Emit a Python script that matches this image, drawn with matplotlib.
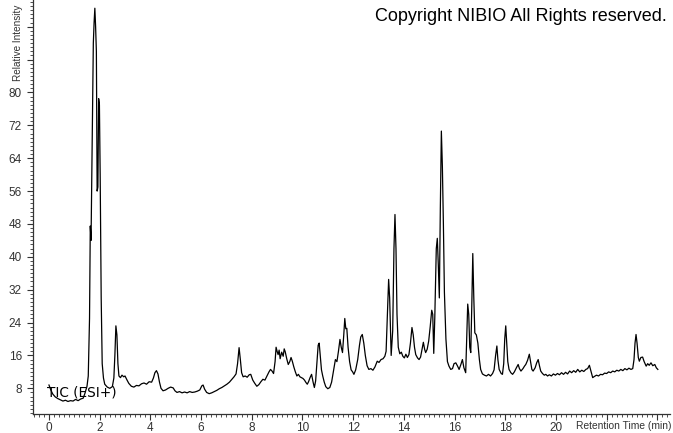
import numpy as np
import matplotlib
matplotlib.use("Agg")
import matplotlib.pyplot as plt
from matplotlib.ticker import MultipleLocator

# TIC chromatogram, retention time (min) vs relative intensity
rt = [0.00, 0.08, 0.15, 0.25, 0.35, 0.45, 0.55, 0.65, 0.75, 0.85, 0.95, 1.05, 1.15, 1.25, 1.35, 1.42,
      1.50, 1.55, 1.60, 1.63, 1.66, 1.70, 1.75, 1.78, 1.81, 1.84, 1.87, 1.90, 1.93, 1.96, 1.99, 2.02,
      2.06, 2.10, 2.15, 2.20, 2.30, 2.40, 2.50, 2.56, 2.60, 2.64, 2.68, 2.72, 2.76, 2.82, 2.88, 2.95,
      3.00, 3.08, 3.15, 3.25, 3.35, 3.45, 3.55, 3.65, 3.75, 3.85, 3.95, 4.05, 4.12, 4.18, 4.24, 4.30,
      4.36, 4.42, 4.50, 4.60, 4.70, 4.80, 4.90, 4.97, 5.05, 5.15, 5.25, 5.35, 5.45, 5.55, 5.65, 5.75,
      5.85, 5.95, 6.03, 6.08, 6.14, 6.22, 6.32, 6.42, 6.52, 6.62, 6.72, 6.82, 6.92, 7.02, 7.12, 7.22,
      7.30, 7.38, 7.44, 7.50, 7.55, 7.60, 7.66, 7.74, 7.82, 7.90, 7.96, 8.04, 8.12, 8.20, 8.28, 8.36,
      8.44, 8.52, 8.60, 8.68, 8.74, 8.80, 8.86, 8.92, 8.96, 9.00, 9.04, 9.08, 9.12, 9.18, 9.24, 9.28,
      9.32, 9.38, 9.44, 9.50, 9.55, 9.60, 9.66, 9.72, 9.78, 9.84, 9.90, 9.96, 10.02, 10.08, 10.14, 10.19,
      10.24, 10.30, 10.36, 10.42, 10.47, 10.52, 10.57, 10.62, 10.66, 10.70, 10.75, 10.80, 10.86, 10.92, 11.00, 11.08,
      11.15, 11.22, 11.30, 11.36, 11.42, 11.48, 11.53, 11.58, 11.63, 11.67, 11.71, 11.75, 11.80, 11.86, 11.92, 11.98,
      12.03, 12.10, 12.18, 12.25, 12.30, 12.36, 12.42, 12.48, 12.55, 12.62, 12.70, 12.78, 12.86, 12.95, 13.02, 13.10,
      13.18, 13.25, 13.30, 13.35, 13.40, 13.44, 13.50, 13.56, 13.61, 13.65, 13.69, 13.73, 13.78, 13.84, 13.90, 13.96,
      14.02, 14.08, 14.14, 14.20, 14.26, 14.32, 14.37, 14.42, 14.47, 14.54, 14.60, 14.66, 14.72, 14.77, 14.82, 14.86,
      14.92, 14.98, 15.04, 15.10, 15.14, 15.18, 15.22, 15.28, 15.32, 15.36, 15.40, 15.44, 15.48, 15.52, 15.56, 15.60,
      15.66, 15.72, 15.78, 15.85, 15.92, 15.98, 16.05, 16.12, 16.18, 16.25, 16.31, 16.37, 16.44, 16.48, 16.52, 16.56,
      16.60, 16.64, 16.68, 16.72, 16.76, 16.80, 16.86, 16.92, 16.98, 17.03, 17.10, 17.18, 17.26, 17.34, 17.42, 17.50,
      17.56, 17.62, 17.67, 17.71, 17.76, 17.84, 17.89, 17.94, 17.98, 18.02, 18.06, 18.10, 18.15, 18.22, 18.29, 18.36,
      18.44, 18.51, 18.56, 18.62, 18.70, 18.76, 18.81, 18.88, 18.95, 19.00, 19.05, 19.10, 19.18, 19.24, 19.30, 19.35,
      19.40, 19.47, 19.54, 19.60, 19.67, 19.74, 19.82, 19.90, 19.98, 20.06, 20.14, 20.22, 20.30, 20.38, 20.46, 20.54,
      20.62, 20.70, 20.78, 20.86, 20.94, 21.02, 21.10, 21.18, 21.25, 21.32, 21.38, 21.45, 21.52, 21.60, 21.68, 21.76,
      21.84, 21.92, 22.00, 22.08, 22.16, 22.24, 22.32, 22.40, 22.48, 22.56, 22.64, 22.72, 22.80, 22.88, 22.96, 23.03,
      23.08, 23.12, 23.16, 23.20, 23.25, 23.29, 23.35, 23.42, 23.48, 23.56, 23.62, 23.68, 23.75, 23.82, 23.90, 23.96,
      24.02]

intensity = [8.8, 7.5, 6.6, 5.9, 5.5, 5.2, 4.9, 5.1, 4.8, 5.0, 4.9, 5.3, 5.0, 5.4, 5.6, 6.8,
             8.5, 11.0, 25.0, 47.5, 44.0, 65.0, 92.0, 97.0, 100.5, 96.0, 90.0, 56.0, 57.0, 78.5, 77.0, 60.0,
             30.0, 14.0, 10.5, 9.0, 8.3, 8.0, 8.4, 10.5, 16.0, 23.2, 21.0, 14.0, 11.0, 10.6, 11.2, 10.8,
             11.0, 10.0, 9.2, 8.5, 8.3, 8.7, 8.6, 9.1, 9.3, 9.0, 9.6, 9.5, 10.5, 11.8, 12.3, 11.5,
             9.5, 8.0, 7.4, 7.6, 8.0, 8.3, 8.1, 7.4, 7.0, 7.2, 6.9, 7.1, 6.9, 7.2, 7.0, 7.1,
             7.3, 7.6, 8.6, 8.8, 7.8, 7.0, 6.7, 6.9, 7.2, 7.5, 7.9, 8.2, 8.6, 9.0, 9.5, 10.2,
             10.8, 11.5, 14.0, 17.9, 15.0, 11.8, 10.8, 11.0, 10.7, 11.3, 11.4, 10.0, 9.2, 8.5, 8.9, 9.6,
             10.2, 10.0, 11.0, 12.0, 12.6, 12.2, 11.6, 14.5, 18.0, 17.0, 16.2, 17.3, 15.2, 16.8, 15.8, 17.6,
             16.9, 15.2, 13.8, 14.5, 15.5, 14.6, 13.2, 12.0, 11.0, 11.4, 10.8, 10.6, 10.4, 10.0, 9.4, 9.0,
             9.6, 10.6, 11.4, 9.5, 8.2, 9.8, 14.0, 18.5, 19.0, 16.0, 12.5, 11.0, 9.5, 8.4, 7.9, 8.2,
             9.5, 12.0, 15.0, 14.5, 17.0, 19.9, 18.0, 16.7, 21.0, 25.0, 22.5, 22.6, 18.0, 14.5, 12.5, 12.0,
             11.4, 12.5, 15.0, 18.5, 20.5, 21.1, 19.0, 16.0, 13.5, 12.6, 12.8, 12.4, 13.2, 14.6, 14.3, 15.0,
             15.2, 15.8, 17.0, 26.0, 34.5, 30.0, 16.0, 22.0, 42.0, 50.3, 42.0, 26.0, 18.0, 16.4, 16.8, 15.8,
             15.4, 16.3, 15.5, 16.2, 19.0, 22.8, 21.0, 18.0, 16.2, 15.4, 15.0, 15.6, 17.5, 19.2, 17.5, 16.7,
             17.5, 19.5, 23.0, 27.0, 26.0, 16.5, 25.0, 42.0, 44.5, 38.0, 30.0, 52.0, 70.6, 62.0, 48.0, 31.4,
             20.0, 14.5, 13.4, 12.6, 12.8, 14.0, 14.2, 13.4, 12.6, 13.8, 15.0, 13.0, 11.8, 20.0, 28.5, 26.0,
             18.0, 16.7, 28.0, 40.8, 30.0, 21.5, 21.0, 19.0, 15.0, 12.6, 11.5, 11.2, 11.0, 11.4, 11.0, 11.6,
             12.5, 16.0, 18.3, 15.0, 12.6, 11.6, 11.4, 14.0, 20.0, 23.2, 19.0, 14.5, 12.6, 11.8, 11.4, 12.0,
             13.0, 13.8, 12.8, 12.2, 12.8, 13.4, 13.8, 14.8, 16.3, 14.5, 12.6, 12.2, 13.0, 14.2, 15.0, 13.5,
             12.2, 11.6, 11.2, 11.4, 11.0, 11.3, 11.0, 11.5, 11.2, 11.6, 11.3, 11.8, 11.4, 11.9, 11.5, 12.2,
             11.8, 12.3, 11.9, 12.6, 12.0, 12.4, 12.1, 12.6, 12.8, 13.6, 12.2, 10.6, 10.9, 11.2, 11.0, 11.4,
             11.3, 11.7, 11.6, 12.0, 11.8, 12.2, 12.0, 12.4, 12.2, 12.6, 12.3, 12.8, 12.5, 12.9, 12.6, 12.8,
             15.0, 19.0, 21.1, 19.0, 15.5, 14.6, 15.5, 15.6, 14.5, 13.4, 14.0, 13.6, 14.2, 13.5, 13.8, 13.0,
             12.6]

x_labels = ["0", "2", "4", "6", "8", "10", "12", "14", "16", "18", "20", "", ""]
y_labels = ["8", "16", "24", "32", "40", "48", "56", "64", "72", "80", "", ""]

tick_font = "Liberation Sans"
grey = "#333333"

fig = plt.figure(figsize=(6.73, 4.33), dpi=100)
ax = fig.add_axes([33 / 673, 19 / 433, 637 / 673, 414 / 433])

ax.plot(rt, intensity, color="black", linewidth=0.9)

ax.set_xlim(-0.63, 24.5)
ax.set_ylim(1.75, 102.5)

ax.set_xticks(np.arange(0, 25, 2))
ax.set_xticklabels(x_labels)
ax.set_yticks(np.arange(8, 97, 8))
ax.set_yticklabels(y_labels)
ax.xaxis.set_minor_locator(MultipleLocator(0.2))
ax.yaxis.set_minor_locator(MultipleLocator(1))

ax.tick_params(which="major", length=4, width=0.8, color=grey, labelsize=8.5,
               labelcolor=grey, pad=2)
ax.tick_params(axis="y", which="major", pad=4)
ax.tick_params(which="minor", length=2, width=0.6, color=grey)
for lab in ax.get_xticklabels() + ax.get_yticklabels():
    lab.set_family(tick_font)

for side in ["top", "right"]:
    ax.spines[side].set_visible(False)
for side in ["left", "bottom"]:
    ax.spines[side].set_color(grey)
    ax.spines[side].set_linewidth(0.9)

# texts around the axes
fig.text(667 / 673, 1 - 21 / 433, "Copyright NIBIO All Rights reserved.",
         ha="right", va="baseline", fontsize=13, family="Liberation Sans", color="black")
fig.text(18 / 673, 1 - 81 / 433, "Relative Intensity", rotation=90, ha="center", va="bottom",
         fontsize=7.2, family=tick_font, color=grey)
fig.text(671 / 673, 1 - 426 / 433, "Retention Time (min)", ha="right", va="center",
         fontsize=7.4, family=tick_font, color=grey)
fig.text(47 / 673, 1 - 397 / 433, "TIC (ESI+)", ha="left", va="baseline",
         fontsize=9.8, family="DejaVu Sans", color="black")

fig.savefig("out.png", dpi=100)
